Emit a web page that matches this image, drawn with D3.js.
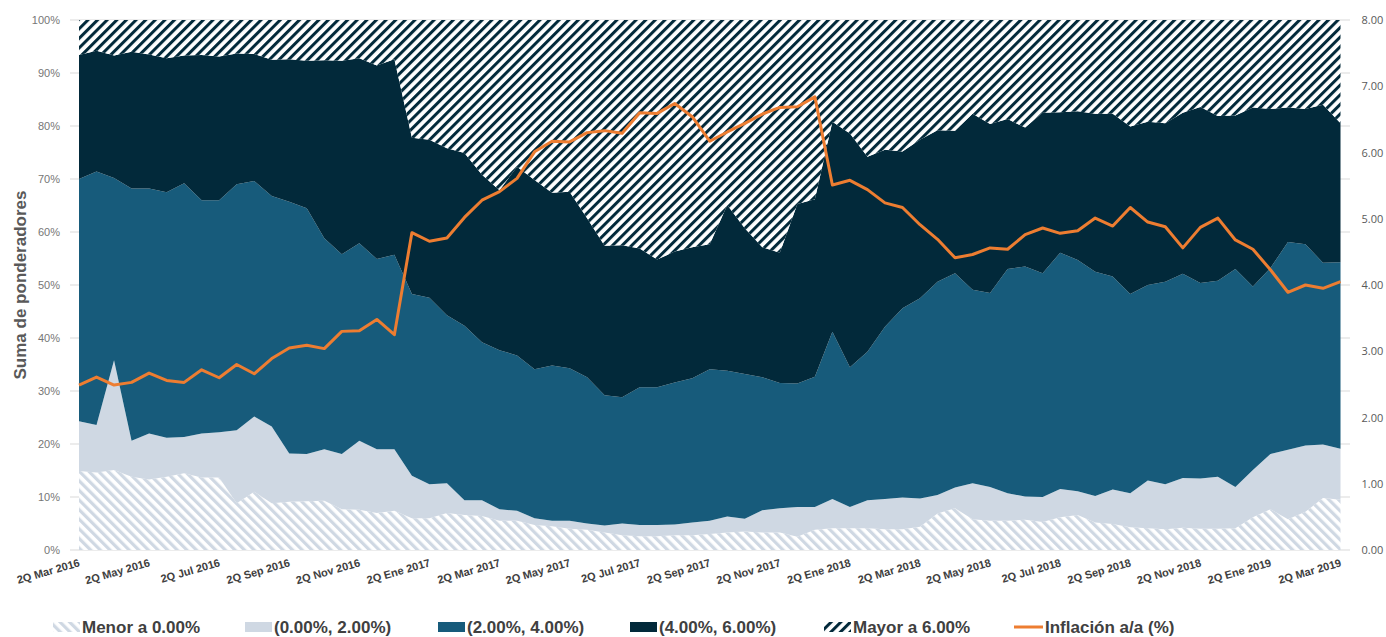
<!DOCTYPE html>
<html>
<head>
<meta charset="utf-8">
<script src="https://cdn.jsdelivr.net/npm/d3@7"></script>
<style>
  body { margin: 0; background: #fff; }
  svg { display: block; }
</style>
</head>
<body>
<div id="chart"></div>
<script>
////////// Data (biweekly, 2Q Mar 2016 .. 2Q Mar 2019) //////////
const tickLabels = ["2Q Mar 2016", "2Q May 2016", "2Q Jul 2016", "2Q Sep 2016", "2Q Nov 2016",
  "2Q Ene 2017", "2Q Mar 2017", "2Q May 2017", "2Q Jul 2017", "2Q Sep 2017", "2Q Nov 2017",
  "2Q Ene 2018", "2Q Mar 2018", "2Q May 2018", "2Q Jul 2018", "2Q Sep 2018", "2Q Nov 2018",
  "2Q Ene 2019", "2Q Mar 2019"];

const seriesNames = ["Menor a 0.00%", "(0.00%, 2.00%)", "(2.00%, 4.00%)", "(4.00%, 6.00%)", "Mayor a 6.00%"];
const lineName = "Inflación a/a (%)";

// share of weights (%) in each inflation range
const menor = [14.9, 14.6, 15.1, 13.8, 13.3, 13.8, 14.5, 13.7, 13.7, 8.8, 11.0, 8.8, 9.1, 9.2, 9.3, 7.7, 7.6, 7.0, 7.4,
  6.0, 6.0, 7.0, 6.6, 6.4, 5.5, 5.5, 4.7, 4.5, 4.0, 3.8, 3.3, 2.8, 2.6, 2.6, 2.8, 2.8, 3.0, 3.3, 3.5, 3.3, 3.3,
  2.5, 3.8, 4.1, 4.1, 4.1, 3.9, 3.9, 4.4, 6.9, 7.9, 5.8, 5.5, 5.5, 5.7, 5.3, 6.2, 6.6, 5.2, 4.9, 4.3,
  4.1, 3.9, 4.2, 4.0, 4.0, 4.1, 6.2, 7.7, 5.8, 7.2, 9.8, 9.5];
const de0a2 = [9.4, 9.0, 20.7, 6.8, 8.7, 7.4, 6.8, 8.3, 8.5, 13.8, 14.2, 14.5, 9.1, 8.9, 9.7, 10.4, 13.0, 12.0, 11.6,
  8.0, 6.4, 5.6, 2.8, 3.0, 2.2, 1.9, 1.3, 1.0, 1.5, 1.2, 1.3, 2.2, 2.1, 2.1, 2.0, 2.4, 2.5, 3.0, 2.4, 4.2, 4.6,
  5.6, 4.3, 5.5, 4.0, 5.3, 5.7, 6.0, 5.3, 3.5, 3.9, 6.8, 6.4, 5.2, 4.4, 4.7, 5.3, 4.5, 5.0, 6.5, 6.4,
  9.0, 8.5, 9.4, 9.5, 9.8, 7.8, 8.9, 10.4, 13.1, 12.5, 10.1, 9.6];
const de2a4 = [45.7, 47.8, 34.4, 47.6, 46.2, 46.3, 47.9, 44.0, 43.8, 46.4, 44.4, 43.5, 47.5, 46.4, 39.8, 37.7, 37.3, 35.9, 36.7,
  34.3, 35.2, 31.7, 32.9, 29.8, 30.0, 29.3, 28.1, 29.3, 28.8, 27.6, 24.6, 23.8, 26.0, 26.0, 26.8, 27.2, 28.6, 27.5, 27.3, 25.1, 23.6,
  23.3, 24.6, 31.6, 26.4, 28.0, 32.5, 35.7, 37.8, 40.2, 40.4, 36.5, 36.6, 42.3, 43.4, 42.2, 44.6, 43.6, 42.3, 40.2, 37.6,
  36.9, 38.2, 38.5, 36.9, 37.0, 41.1, 34.6, 35.1, 39.2, 38.0, 34.3, 35.2];
const de4a6 = [23.4, 22.8, 23.1, 25.8, 25.3, 25.3, 24.1, 27.4, 27.1, 24.7, 24.0, 25.7, 26.9, 27.8, 33.6, 36.5, 34.9, 36.5, 36.9,
  29.5, 29.8, 31.5, 32.6, 31.6, 30.2, 35.6, 35.7, 32.6, 33.3, 30.0, 28.2, 28.7, 26.2, 24.1, 24.7, 24.7, 23.6, 31.3, 27.5, 24.5, 24.6,
  33.9, 33.5, 39.6, 44.1, 36.8, 33.4, 29.6, 29.9, 28.6, 26.9, 33.2, 31.9, 28.3, 26.2, 30.3, 26.5, 28.1, 29.8, 30.7, 31.6,
  30.8, 29.9, 30.4, 33.2, 31.1, 29.0, 33.8, 30.0, 25.4, 25.5, 29.8, 26.2];
const mayor = [6.6, 5.8, 6.7, 6.0, 6.5, 7.2, 6.7, 6.6, 6.9, 6.3, 6.4, 7.5, 7.4, 7.7, 7.6, 7.7, 7.2, 8.6, 7.4,
  22.2, 22.6, 24.2, 25.1, 29.2, 32.1, 27.7, 30.2, 32.6, 32.4, 37.4, 42.6, 42.5, 43.1, 45.2, 43.7, 42.9, 42.3, 34.9, 39.3, 42.9, 43.9,
  34.7, 33.8, 19.2, 21.4, 25.8, 24.5, 24.8, 22.6, 20.8, 20.9, 17.7, 19.6, 18.7, 20.3, 17.5, 17.4, 17.2, 17.7, 17.7, 20.1,
  19.2, 19.5, 17.5, 16.4, 18.1, 18.0, 16.5, 16.8, 16.5, 16.8, 16.0, 19.5];

// annual inflation (%), right axis
const inflacion = [2.49, 2.61, 2.49, 2.53, 2.67, 2.56, 2.53, 2.72, 2.60, 2.80, 2.66, 2.89, 3.05, 3.09, 3.04, 3.30, 3.31, 3.48, 3.25,
  4.79, 4.66, 4.71, 5.02, 5.28, 5.41, 5.61, 6.01, 6.17, 6.16, 6.30, 6.33, 6.29, 6.60, 6.59, 6.74, 6.54, 6.17, 6.31, 6.44, 6.58, 6.68,
  6.69, 6.84, 5.51, 5.58, 5.44, 5.24, 5.17, 4.91, 4.69, 4.41, 4.46, 4.56, 4.54, 4.76, 4.86, 4.78, 4.82, 5.01, 4.89, 5.17,
  4.95, 4.88, 4.56, 4.87, 5.01, 4.68, 4.54, 4.23, 3.89, 4.00, 3.95, 4.05];

////////// Build rows for the stack
const keys = ["menor", "de0a2", "de2a4", "de4a6", "mayor"];
const rows = menor.map((v, i) => ({
  i: i,
  menor: v,
  de0a2: de0a2[i],
  de2a4: de2a4[i],
  de4a6: de4a6[i],
  mayor: mayor[i]
}));

const width = 1386;
const height = 637;

const svg = d3.select("#chart").append("svg")
  .attr("width", width)
  .attr("height", height)
  .style("font-family", "'Liberation Sans', Arial, sans-serif");

const x = d3.scaleLinear().domain([0, menor.length - 1]).range([79, 1340.5]);
const y = d3.scaleLinear().domain([0, 100]).range([550, 20]);
const y2 = d3.scaleLinear().domain([0, 8]).range([550, 20]);

////////// Patterns
const defs = svg.append("defs");

function hatch(id, angle, color, stripe) {
  const size = 6.8;
  const p = defs.append("pattern")
    .attr("id", id)
    .attr("patternUnits", "userSpaceOnUse")
    .attr("width", size)
    .attr("height", size)
    .attr("patternTransform", `rotate(${angle})`);
  p.append("rect").attr("width", size).attr("height", size).attr("fill", "#fff");
  p.append("rect").attr("width", stripe).attr("height", size).attr("fill", color);
}
hatch("hatchLight", -45, "#cfd8e3", 3.2);
hatch("hatchDark", 45, "#02293a", 3.0);

const fills = {
  menor: "url(#hatchLight)",
  de0a2: "#cfd8e3",
  de2a4: "#175b7b",
  de4a6: "#02293a",
  mayor: "url(#hatchDark)"
};

////////// Gridlines (sit behind the areas)
svg.append("g")
  .selectAll("line")
  .data(d3.range(0, 101, 10))
  .enter().append("line")
  .attr("x1", 70)
  .attr("x2", 1350)
  .attr("y1", d => y(d))
  .attr("y2", d => y(d))
  .attr("stroke", "#d9d9d9")
  .attr("stroke-width", 1);

////////// Stacked areas
const stacked = d3.stack().keys(keys)(rows);

const area = d3.area()
  .x(d => x(d.data.i))
  .y0(d => y(d[0]))
  .y1(d => y(d[1]));

svg.append("g")
  .selectAll("path")
  .data(stacked)
  .enter().append("path")
  .attr("d", area)
  .attr("fill", d => fills[d.key]);

////////// Inflation line
const line = d3.line()
  .x((d, i) => x(i))
  .y(d => y2(d));

svg.append("path")
  .datum(inflacion)
  .attr("d", line)
  .attr("fill", "none")
  .attr("stroke", "#ed7d31")
  .attr("stroke-width", 3)
  .attr("stroke-linejoin", "round");

////////// Axes
const leftAxis = svg.append("g")
  .attr("transform", "translate(79,0)")
  .call(d3.axisLeft(y).tickValues(d3.range(0, 101, 10)).tickFormat(d => d + "%").tickSize(0).tickPadding(19));
leftAxis.select(".domain").remove();
leftAxis.selectAll("text")
  .attr("fill", "#767676")
  .style("font-size", "11px")
  .style("font-family", "'Liberation Sans', Arial, sans-serif");

const rightAxis = svg.append("g")
  .attr("transform", "translate(1340.5,0)")
  .call(d3.axisRight(y2).tickValues(d3.range(0, 8.01, 1)).tickFormat(d3.format(".2f")).tickSize(0).tickPadding(21));
rightAxis.select(".domain").remove();
rightAxis.selectAll("text")
  .attr("fill", "#595959")
  .style("font-size", "11px")
  .style("font-family", "'Open Sans', sans-serif");

const bottomAxis = svg.append("g")
  .attr("transform", "translate(0,550)")
  .call(d3.axisBottom(x).tickValues(d3.range(0, menor.length, 4)).tickFormat((d, i) => tickLabels[i]).tickSize(0));
bottomAxis.select(".domain").remove();
bottomAxis.selectAll("text")
  .attr("y", 0)
  .attr("dy", 0)
  .attr("text-anchor", "end")
  .attr("transform", "translate(1,16) rotate(-16)")
  .attr("fill", "#404040")
  .style("font-size", "11px")
  .style("font-weight", "bold")
  .style("font-family", "'Liberation Sans', Arial, sans-serif");

// y axis title
svg.append("text")
  .attr("transform", "translate(26,285) rotate(-90)")
  .attr("text-anchor", "middle")
  .attr("fill", "#595959")
  .style("font-size", "17px")
  .style("font-weight", "bold")
  .text("Suma de ponderadores");

////////// Legend
const legend = svg.append("g").attr("transform", "translate(0,627)");
const legendItems = keys.map((k, i) => ({ name: seriesNames[i], fill: fills[k], type: "rect" }))
  .concat([{ name: lineName, fill: "#ed7d31", type: "line" }]);
const legendX = [82, 274, 467, 659, 853, 1045];

legendItems.forEach((d, i) => {
  const g = legend.append("g").attr("transform", `translate(${legendX[i]},0)`);
  if (d.type === "rect") {
    g.append("rect")
      .attr("x", -29)
      .attr("y", -5)
      .attr("width", 27)
      .attr("height", 10)
      .attr("fill", d.fill);
  } else {
    g.append("line")
      .attr("x1", -31)
      .attr("x2", -2)
      .attr("y1", 0)
      .attr("y2", 0)
      .attr("stroke", d.fill)
      .attr("stroke-width", 3);
  }
  g.append("text")
    .attr("x", 0)
    .attr("y", 6)
    .attr("fill", "#404040")
    .style("font-size", "17px")
    .style("font-weight", "bold")
    .text(d.name);
});
</script>
</body>
</html>
